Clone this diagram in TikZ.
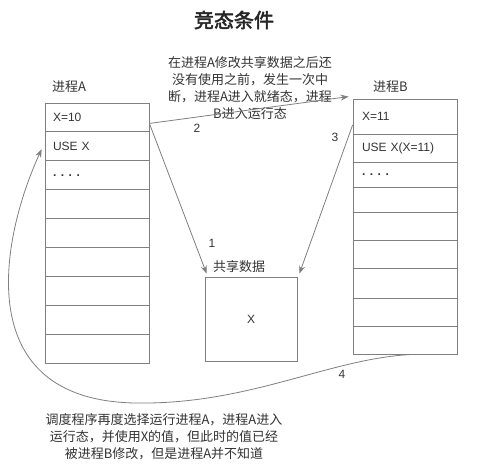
\documentclass[tikz,border=0pt]{standalone}
\usepackage{fontspec}
\setmainfont{Liberation Sans}
\newfontfamily\cjk{Noto Sans CJK SC}
\newfontfamily\cjkbold[FakeBold=2.5]{Noto Sans CJK SC}
\usetikzlibrary{arrows.meta}
\definecolor{linegray}{HTML}{7F7F7F}
\definecolor{txt}{HTML}{333333}
\newcommand{\rowdots}{\textbf{.\hspace{4.5pt}.\hspace{4.5pt}.\hspace{4.5pt}.}}
\begin{document}
\begin{tikzpicture}[x=1pt,y=-1pt,
  cell/.style={draw=linegray, line width=0.8pt, inner ysep=0pt, inner xsep=8pt,
    text width=88pt, align=left, minimum height=#1, font=\fontsize{12}{14}\selectfont, text=txt},
  cell/.default=28.9pt,
  lbl/.style={font=\cjk\fontsize{13}{15}\selectfont, text=txt, inner sep=0pt},
  num/.style={font=\fontsize{12}{14}\selectfont, text=txt, inner sep=0pt},
  conn/.style={draw=linegray, line width=0.8pt, -{Stealth[length=8pt,width=6pt]}}]
\useasboundingbox (0,0) rectangle (490,472);

% title
\node[font=\cjkbold\fontsize{20}{22}\selectfont, text=black!85, inner sep=0pt] (title) at (234,20) {竞态条件};

% process A
\node[lbl, anchor=west] (labA) at (52,87) {进程A};
\foreach \i/\t in {1/{X=10},2/{USE X},3/{\rowdots},4/{},5/{},6/{},7/{},8/{},9/{}}{
  \node[cell, minimum width=104pt] (a\i) at (97,{103+(\i-0.5)*28.89}) {\t};
}

% process B
\node[lbl, anchor=west] (labB) at (373,87) {进程B};
\foreach \i/\top/\bot/\t in {1/99/134/{X=11},2/134/162/{USE X(X=11)},3/162/187/{\rowdots},
  4/187/212/{},5/212/240/{},6/240/268/{},7/268/298/{},8/298/326/{},9/326/354/{}}{
  \node[cell=\bot pt-\top pt, minimum width=104pt, inner xsep=9pt, text width=86pt] (b\i) at (405,{(\top+\bot)/2}) {\t};
}

% shared data
\node[lbl, anchor=west] (labS) at (213,267) {共享数据};
\node[draw=linegray, line width=0.8pt, minimum width=92pt, minimum height=84pt, inner sep=0pt,
  font=\fontsize{12}{14}\selectfont, text=txt] (sh) at (251,319) {X};

% texts
\node[lbl, align=center, font=\cjk\fontsize{13}{17}\selectfont] (t1) at (250,88)
  {在进程A修改共享数据之后还\\没有使用之前，发生一次中\\断，进程A进入就绪态，进程\\B进入运行态};
\node[lbl, align=center, font=\cjk\fontsize{13}{17}\selectfont] (t2) at (164,437)
  {调度程序再度选择运行进程A，进程A进入\\运行态，并使用X的值，但此时的值已经\\被进程B修改，但是进程A并不知道};

% connectors
\draw[conn] ([yshift=-6pt]a1.east) -- ([xshift=-4pt,yshift=2pt]b1.north west);
\draw[conn] ([yshift=-6pt]a1.east) -- ([xshift=2pt,yshift=3pt]sh.north west);
\draw[conn] ([yshift=-8.5pt]b1.west) -- ([xshift=2pt,yshift=3pt]sh.north east);
\draw[conn] ([xshift=8pt]b9.south) .. controls (330,358) and (250,405) .. (135,403)
  .. controls (-30,400) and (0,240) .. ([xshift=-3pt,yshift=-3pt]a2.west);

% numbers
\node[num] (n1) at (212,243) {1};
\node[num] (n2) at (197,128) {2};
\node[num] (n3) at (335,137) {3};
\node[num] (n4) at (342,374) {4};
\end{tikzpicture}
\end{document}
